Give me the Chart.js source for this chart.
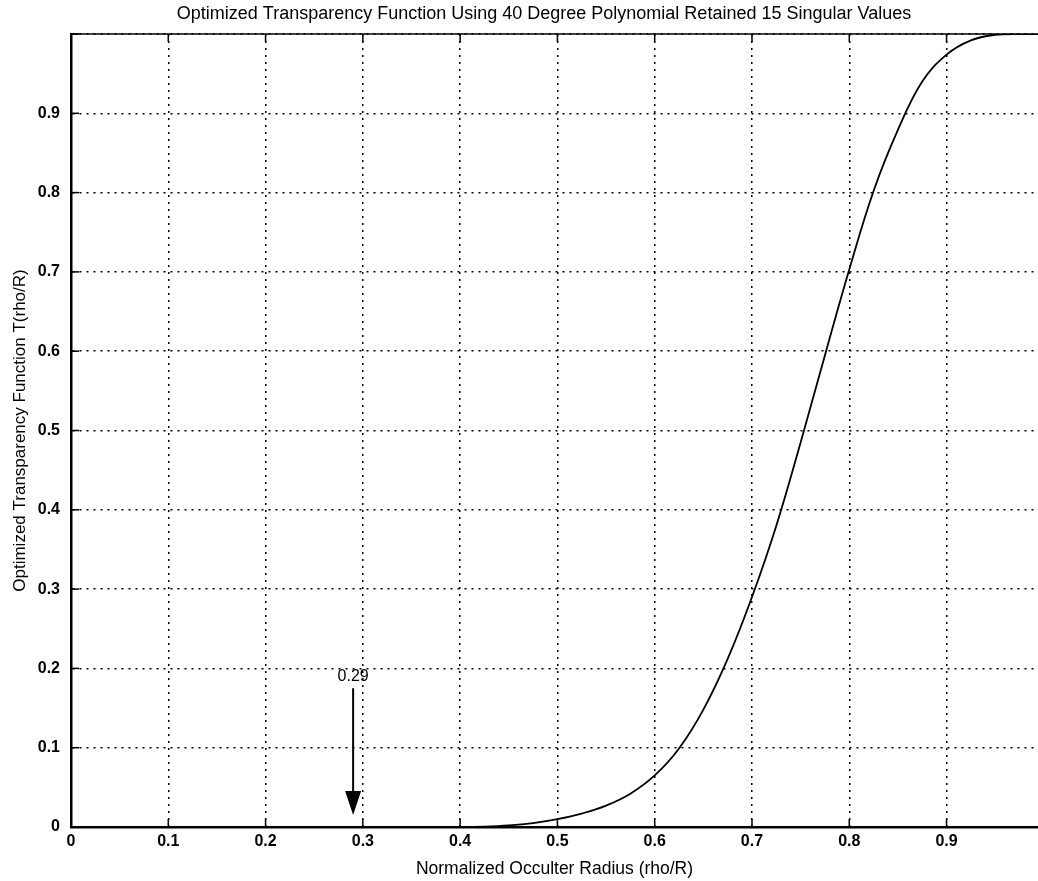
<!DOCTYPE html>
<html>

<head>
    <title>Optimized Transparency Function</title>
    <style>
        html,
        body {
            margin: 0;
            padding: 0;
            background-color: #fff;
            overflow: hidden;
        }

        #wrap {
            position: relative;
            width: 1038px;
            height: 881px;
        }
    </style>
</head>

<body>
    <div id="wrap">
        <canvas id="chart"></canvas>
    </div>
    <script src="https://cdn.jsdelivr.net/npm/chart.js"></script>
    <script>
        const titleText = 'Optimized Transparency Function Using 40 Degree Polynomial Retained 15 Singular Values';
        const xTitle = 'Normalized Occulter Radius (rho/R)';
        const yTitle = 'Optimized Transparency Function T(rho/R)';

        // curve
        const radius = [0, 0.1, 0.2, 0.3, 0.4, 0.425, 0.45, 0.475, 0.5, 0.525, 0.55, 0.575, 0.6, 0.625, 0.65, 0.675,
            0.7, 0.725, 0.75, 0.775, 0.8, 0.825, 0.85, 0.875, 0.9, 0.925, 0.95, 0.975, 0.994];
        const transparency = [0, 0, 0, 0, 0, 0.0005, 0.002, 0.005, 0.01, 0.017, 0.027, 0.042, 0.065, 0.099, 0.148, 0.212,
            0.29, 0.38, 0.485, 0.595, 0.703, 0.802, 0.879, 0.94, 0.974, 0.992, 0.999, 1, 1];

        // arrow annotation
        const arrowLabel = '0.29';
        const arrowX = 0.29;
        const arrowLabelY = 0.19;
        const arrowFrom = 0.175;
        const arrowTo = 0.015;

        const font = '"Liberation Sans", Arial, Helvetica, sans-serif';

        const decorations = {
            id: 'decorations',
            afterDraw(chart) {
                const { ctx, chartArea: a, scales: { x, y } } = chart;
                ctx.save();

                // top frame line
                ctx.strokeStyle = '#000';
                ctx.lineWidth = 1.5;
                ctx.beginPath();
                ctx.moveTo(a.left, a.top);
                ctx.lineTo(a.right, a.top);
                ctx.stroke();

                // inward tick marks
                x.ticks.forEach((t) => {
                    const px = x.getPixelForValue(t.value);
                    ctx.beginPath();
                    ctx.moveTo(px, a.bottom);
                    ctx.lineTo(px, a.bottom - 8);
                    ctx.moveTo(px, a.top);
                    ctx.lineTo(px, a.top + 8);
                    ctx.stroke();
                });
                y.ticks.forEach((t) => {
                    const py = y.getPixelForValue(t.value);
                    ctx.beginPath();
                    ctx.moveTo(a.left, py);
                    ctx.lineTo(a.left + 8, py);
                    ctx.stroke();
                });

                // title
                ctx.fillStyle = '#000';
                ctx.font = `18px ${font}`;
                ctx.textAlign = 'center';
                ctx.textBaseline = 'middle';
                ctx.fillText(titleText, 544, 14);

                // arrow
                const ax = x.getPixelForValue(arrowX);
                const y0 = y.getPixelForValue(arrowFrom);
                const y1 = y.getPixelForValue(arrowTo);
                ctx.font = `16px ${font}`;
                ctx.fillText(arrowLabel, ax, y.getPixelForValue(arrowLabelY));
                ctx.lineWidth = 2;
                ctx.beginPath();
                ctx.moveTo(ax, y0);
                ctx.lineTo(ax, y1 - 20);
                ctx.stroke();
                ctx.beginPath();
                ctx.moveTo(ax - 8, y1 - 24);
                ctx.lineTo(ax + 8, y1 - 24);
                ctx.lineTo(ax, y1);
                ctx.closePath();
                ctx.fill();

                ctx.restore();
            }
        };

        new Chart(document.getElementById('chart'), {
            type: 'line',
            data: {
                datasets: [{
                    data: radius.map((r, i) => ({ x: r, y: transparency[i] })),
                    borderColor: '#000',
                    borderWidth: 1.8,
                    pointRadius: 0,
                    tension: 0.4,
                    fill: false,
                }]
            },
            options: {
                responsive: true,
                maintainAspectRatio: false,
                animation: false,
                layout: {
                    padding: { top: 34, right: 0, left: 0, bottom: 0 }
                },
                plugins: {
                    legend: { display: false },
                    tooltip: { enabled: false },
                },
                scales: {
                    x: {
                        type: 'linear',
                        min: 0,
                        max: 0.994,
                        afterFit: (scale) => { scale.height = 54; },
                        ticks: {
                            stepSize: 0.1,
                            includeBounds: false,
                            padding: 5,
                            color: '#000',
                            font: { family: font, size: 16, weight: 'bold' },
                            callback: (v) => String(+v.toFixed(1)),
                        },
                        grid: {
                            color: '#000',
                            lineWidth: 1.5,
                            drawTicks: false,
                        },
                        border: { color: '#000', width: 2.5, dash: [2, 5] },
                        title: {
                            display: true,
                            text: xTitle,
                            color: '#000',
                            font: { family: font, size: 17.5 },
                            padding: { top: 0, bottom: 1 },
                        },
                    },
                    y: {
                        min: 0,
                        max: 1,
                        afterFit: (scale) => { scale.width = 71; },
                        ticks: {
                            stepSize: 0.1,
                            padding: 11,
                            color: '#000',
                            font: { family: font, size: 16, weight: 'bold' },
                            callback: (v) => (v >= 1 ? '' : String(+v.toFixed(1))),
                        },
                        grid: {
                            color: '#000',
                            lineWidth: 1.5,
                            drawTicks: false,
                        },
                        border: { color: '#000', width: 2.5, dash: [2, 5] },
                        title: {
                            display: true,
                            text: yTitle,
                            color: '#000',
                            font: { family: font, size: 17 },
                            padding: { top: 10, bottom: 0 },
                        },
                    },
                },
            },
            plugins: [decorations],
        });
    </script>
</body>

</html>
